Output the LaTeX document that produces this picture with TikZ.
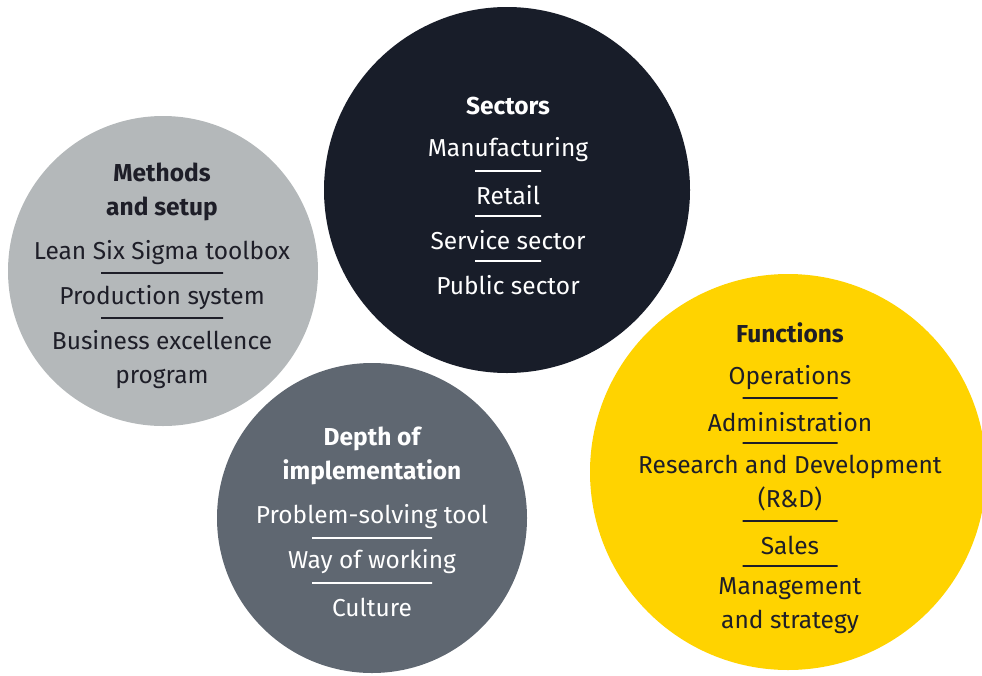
\documentclass[tikz,border=0pt]{standalone}
\usepackage{fontspec}
\setmainfont{Fira Sans}

\definecolor{eygrey}{HTML}{B4B8BA}
\definecolor{eynavy}{HTML}{181D29}
\definecolor{eyslate}{HTML}{5F6771}
\definecolor{eyyellow}{HTML}{FFD300}
\definecolor{eyink}{HTML}{1E1E28}

\tikzset{
  bubble/.style={circle, inner sep=0pt},
  head/.style={font=\fontsize{24.5}{34}\selectfont\bfseries, align=center, inner sep=0pt},
  item/.style={font=\fontsize{24.5}{34}\selectfont, align=center, inner sep=0pt},
  divider/.style={draw, line width=1.2pt, minimum height=0pt, inner sep=0pt, minimum width=#1},
}

\begin{document}
\begin{tikzpicture}[x=1pt,y=-1pt]
  \useasboundingbox (0,0) rectangle (982,675);

  % circles
  \node[bubble, fill=eygrey, minimum size=310] (M) at (163,271) {};
  \node[bubble, fill=eynavy, minimum size=366] (S) at (507,190) {};
  \node[bubble, fill=eyslate, minimum size=310] (D) at (372,518) {};
  \node[bubble, fill=eyyellow, minimum size=396] (F) at (788,472) {};

  % methods and setup
  \node[head, text=eyink] (Mt) at (162,192) {Methods\\and setup};
  \node[item, text=eyink] (M1) at (162,253) {Lean Six Sigma toolbox};
  \node[divider=122, draw=eyink] (Md1) at (162,273) {};
  \node[item, text=eyink] (M2) at (162,298) {Production system};
  \node[divider=122, draw=eyink] (Md2) at (162,318) {};
  \node[item, text=eyink] (M3) at (162,360) {Business excellence\\program};

  % sectors
  \node[head, text=white] (St) at (508,106) {Sectors};
  \node[item, text=white] (S1) at (508,150) {Manufacturing};
  \node[divider=66, draw=white] (Sd1) at (508,171) {};
  \node[item, text=white] (S2) at (508,195) {Retail};
  \node[divider=66, draw=white] (Sd2) at (508,216) {};
  \node[item, text=white] (S3) at (508,240) {Service sector};
  \node[divider=66, draw=white] (Sd3) at (508,261) {};
  \node[item, text=white] (S4) at (508,285) {Public sector};

  % depth of implementation
  \node[head, text=white] (Dt) at (372,456) {Depth of\\implementation};
  \node[item, text=white] (D1) at (372,517) {Problem-solving tool};
  \node[divider=120, draw=white] (Dd1) at (372,538) {};
  \node[item, text=white] (D2) at (372,562) {Way of working};
  \node[divider=120, draw=white] (Dd2) at (372,583) {};
  \node[item, text=white] (D3) at (372,607) {Culture};

  % functions
  \node[head, text=eyink] (Ft) at (790,333) {Functions};
  \node[item, text=eyink] (F1) at (790,378) {Operations};
  \node[divider=95, draw=eyink] (Fd1) at (790,398) {};
  \node[item, text=eyink] (F2) at (790,422) {Administration};
  \node[divider=95, draw=eyink] (Fd2) at (790,443) {};
  \node[item, text=eyink] (F3) at (790,483) {Research and Development\\(R\&D)};
  \node[divider=95, draw=eyink] (Fd3) at (790,521) {};
  \node[item, text=eyink] (F4) at (790,545) {Sales};
  \node[divider=95, draw=eyink] (Fd4) at (790,566) {};
  \node[item, text=eyink] (F5) at (790,606) {Management\\and strategy};
\end{tikzpicture}
\end{document}
